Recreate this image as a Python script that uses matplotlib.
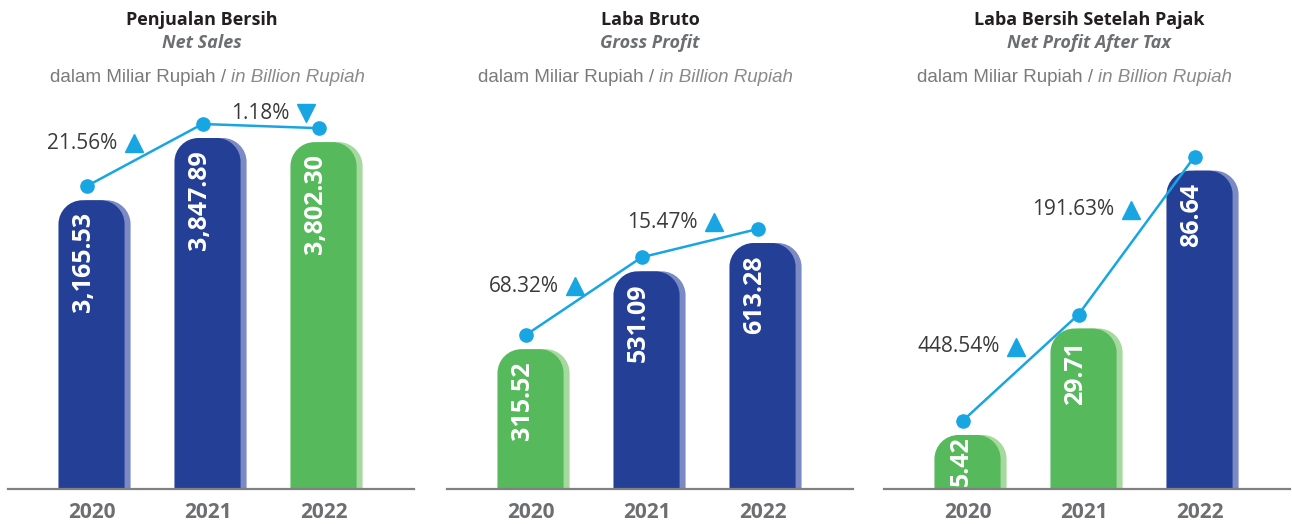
import numpy as np
import matplotlib
matplotlib.use('Agg')
import matplotlib.pyplot as plt
import matplotlib.transforms as mtransforms
from matplotlib.path import Path
from matplotlib.patches import PathPatch

# data
years = ['2020', '2021', '2022']
titles = ['Penjualan Bersih', 'Laba Bruto', 'Laba Bersih Setelah Pajak']
subtitles = ['Net Sales', 'Gross Profit', 'Net Profit After Tax']

net_sales = [3165.53, 3847.89, 3802.30]
gross_profit = [315.52, 531.09, 613.28]
net_profit = [5.42, 29.71, 86.64]

net_sales_growth = ['21.56%', '1.18%']
gross_profit_growth = ['68.32%', '15.47%']
net_profit_growth = ['448.54%', '191.63%']
net_sales_dir = ['up', 'down']
gross_profit_dir = ['up', 'up']
net_profit_dir = ['up', 'up']

# style
BLUE, BLUE_SH = '#233f96', '#7b89c5'
GREEN, GREEN_SH = '#56b95b', '#a6d99e'
CYAN = '#17a6e2'
bar_colors = [['b', 'b', 'g'], ['g', 'b', 'b'], ['g', 'g', 'b']]
palette = {'b': (BLUE, BLUE_SH), 'g': (GREEN, GREEN_SH)}

panels = [
    (net_sales, net_sales_growth, net_sales_dir),
    (gross_profit, gross_profit_growth, gross_profit_dir),
    (net_profit, net_profit_growth, net_profit_dir),
]
# layout (pixels / axes fractions)
W, H = 1292, 524
ax_left = [8, 447, 884]
ax_w, ax_bot, ax_h = 406, 35, 389
y_top = [4264.5, 1051.6, 118.5]
y_pow = [1.0, 0.85, 0.64]
title_x = [0.478, 0.5, 0.505]
unit_x = [0.103, 0.076, 0.081]
growth_off = [[(-11, 12), (45, 13)], [(-9, 10), (14, 21)], [(-5, 21), (-6, 26)]]

bw = 0.57
R = 24

fig = plt.figure(figsize=(W / 100, H / 100), dpi=100)
ident = mtransforms.IdentityTransform()


def top_rounded(x0, x1, y0, y1, r):
    r = min(r, (x1 - x0) / 2, y1 - y0)
    k = 0.5523 * r
    verts = [(x0, y0), (x0, y1 - r), (x0, y1 - r + k), (x0 + r - k, y1), (x0 + r, y1),
             (x1 - r, y1), (x1 - r + k, y1), (x1, y1 - r + k), (x1, y1 - r),
             (x1, y0), (x0, y0)]
    codes = [Path.MOVETO, Path.LINETO, Path.CURVE4, Path.CURVE4, Path.CURVE4,
             Path.LINETO, Path.CURVE4, Path.CURVE4, Path.CURVE4,
             Path.LINETO, Path.CLOSEPOLY]
    return Path(verts, codes)


for p, (vals, growth, dirs) in enumerate(panels):
    ax = fig.add_axes([ax_left[p] / W, ax_bot / H, ax_w / W, ax_h / H])
    e = y_pow[p]
    if e != 1.0:
        ax.set_yscale('function', functions=(lambda v, e=e: np.sign(v) * np.abs(v) ** e,
                                             lambda v, e=e: np.sign(v) * np.abs(v) ** (1 / e)))
    ax.set_xlim(-0.72, 2.78)
    ax.set_ylim(0, y_top[p])
    for s in ['top', 'left', 'right']:
        ax.spines[s].set_visible(False)
    ax.spines['bottom'].set_color('#808080')
    ax.spines['bottom'].set_linewidth(1.6)
    ax.set_yticks([])
    ax.set_xticks(range(3))
    ax.set_xticklabels(years, fontsize=15, fontweight='bold', color='#6d6e71', family='Open Sans')
    ax.tick_params(axis='x', length=0, pad=9)

    # bars
    for i, v in enumerate(vals):
        main, shade = palette[bar_colors[p][i]]
        x0, y0 = ax.transData.transform((i - bw / 2, 0))
        x1, y1 = ax.transData.transform((i + bw / 2, v))
        for dx, c in ((6, shade), (0, main)):
            patch = PathPatch(top_rounded(x0 + dx, x1 + dx, y0, y1, R), fc=c, ec='none',
                              transform=ident, zorder=1)
            ax.add_patch(patch)
        if y1 - y0 < 80:
            # short bar: sit the label on the baseline so it stays inside
            ax.text((x0 + x1) / 2 - 6, y0 + 3, f'{v:,.2f}', transform=ident, rotation=90,
                    ha='center', va='bottom', color='white', fontsize=18,
                    fontweight='bold', family='Open Sans', zorder=3)
        else:
            ax.annotate(f'{v:,.2f}', xy=(i, v), xytext=(-8, -12), textcoords='offset pixels',
                        rotation=90, ha='center', va='top', color='white', fontsize=18,
                        fontweight='bold', family='Open Sans', zorder=3)

    # growth line
    shift = mtransforms.ScaledTranslation(-5 / 100, 14 / 100, fig.dpi_scale_trans)
    ax.plot(range(3), vals, color=CYAN, lw=1.8, marker='o', ms=9.5,
            transform=ax.transData + shift, clip_on=False, zorder=4)
    pts = (ax.transData + shift).transform(np.column_stack([range(3), vals]))
    for j, lab in enumerate(growth):
        mx, my = (pts[j] + pts[j + 1]) / 2
        tx, ty = mx + growth_off[p][j][0], my + growth_off[p][j][1]
        ax.plot([tx], [ty], marker='^' if dirs[j] == 'up' else 'v', ms=12.5, color=CYAN,
                transform=ident, clip_on=False, zorder=4)
        ax.text(tx - 16, ty, lab, transform=ident, ha='right', va='center', fontsize=15,
                color='#3a3a3a', family='Open Sans', clip_on=False)

    # titles
    bt = mtransforms.blended_transform_factory(ax.transAxes, fig.transFigure)
    ax.text(title_x[p], 1 - 20 / H, titles[p], transform=bt, ha='center', va='center',
            fontsize=13, fontweight='bold', color='#231f20', family='Open Sans')
    ax.text(title_x[p], 1 - 43 / H, subtitles[p], transform=bt, ha='center', va='center',
            fontsize=13, fontweight='bold', style='italic', color='#6d6e71', family='Open Sans')
    t1 = ax.text(unit_x[p], 1 - 77 / H, 'dalam Miliar Rupiah /', transform=bt, ha='left',
                 va='center', fontsize=13.5, color='#7a7a7a', family='Liberation Sans')
    ax.annotate('in Billion Rupiah', xy=(1, 0), xycoords=t1, xytext=(5, 0),
                textcoords='offset pixels', ha='left', va='bottom', fontsize=13.5,
                style='italic', color='#8a8a8a', family='Liberation Sans')

fig.savefig('out.png', dpi=100)
